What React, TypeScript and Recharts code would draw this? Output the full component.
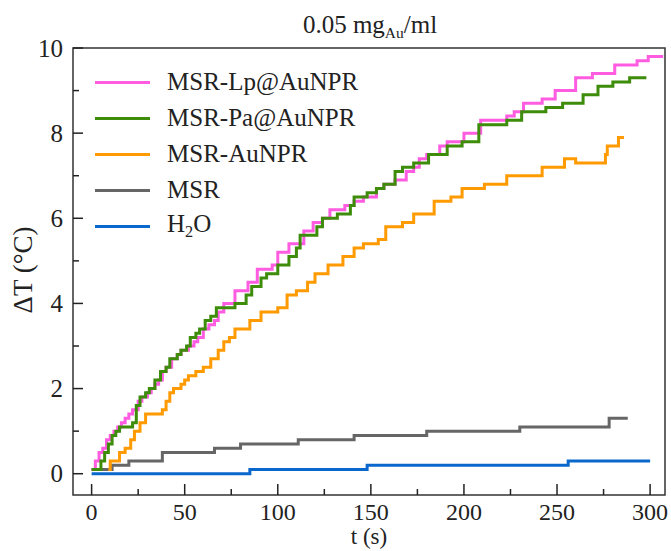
import React from 'react';
import { LineChart, Line, XAxis, YAxis, ReferenceArea } from 'recharts';

// heating curves, t in s, dT in degC
const lpTime = [0, 2, 4, 6, 8, 10, 12, 14, 16, 18, 20, 22, 25, 27, 30, 32, 34, 36, 38, 40, 43, 46, 48, 52, 55, 57, 60, 63, 66, 68, 71, 77, 84, 89, 97, 100, 106, 114, 119, 124, 128, 136, 141, 146, 153, 157, 163, 169, 173, 176, 180, 187, 191, 200, 209, 223, 227, 232, 242, 249, 260, 269, 281, 293, 299, 307];
const lpTemp = [0.1, 0.3, 0.5, 0.6, 0.8, 0.9, 1.0, 1.1, 1.2, 1.3, 1.4, 1.5, 1.7, 1.8, 1.9, 2.0, 2.1, 2.2, 2.4, 2.5, 2.7, 2.8, 2.9, 3.0, 3.1, 3.2, 3.4, 3.5, 3.6, 3.8, 4.0, 4.3, 4.5, 4.8, 4.9, 5.2, 5.4, 5.7, 5.9, 6.0, 6.2, 6.3, 6.4, 6.5, 6.7, 6.8, 6.9, 7.1, 7.2, 7.4, 7.5, 7.7, 7.8, 8.0, 8.3, 8.4, 8.5, 8.7, 8.8, 9.0, 9.3, 9.4, 9.6, 9.7, 9.8, 9.8];

const paTime = [0, 3, 5, 7, 9, 11, 13, 15, 22, 24, 26, 29, 31, 34, 37, 40, 42, 46, 48, 51, 53, 56, 58, 61, 64, 67, 77, 83, 86, 91, 94, 100, 106, 110, 112, 121, 124, 132, 139, 141, 148, 153, 157, 163, 167, 173, 181, 191, 199, 208, 223, 231, 244, 253, 264, 272, 280, 289, 298];
const paTemp = [0.1, 0.1, 0.3, 0.5, 0.7, 0.9, 1.0, 1.1, 1.2, 1.6, 1.8, 1.9, 2.0, 2.2, 2.4, 2.5, 2.7, 2.8, 2.9, 3.0, 3.2, 3.3, 3.4, 3.6, 3.7, 3.9, 4.0, 4.2, 4.4, 4.6, 4.7, 4.9, 5.1, 5.3, 5.6, 5.8, 6.0, 6.1, 6.3, 6.5, 6.6, 6.7, 6.8, 7.1, 7.2, 7.3, 7.5, 7.7, 7.8, 8.2, 8.3, 8.5, 8.6, 8.7, 8.9, 9.1, 9.2, 9.3, 9.3];

const auTime = [9, 10, 15, 18, 21, 23, 26, 29, 38, 40, 42, 44, 48, 50, 52, 56, 60, 64, 68, 71, 74, 77, 85, 91, 100, 105, 110, 116, 120, 127, 135, 141, 146, 154, 158, 167, 173, 184, 193, 199, 211, 223, 242, 254, 260, 276, 277, 283, 286];
const auTemp = [0.1, 0.3, 0.5, 0.6, 0.8, 1.0, 1.2, 1.4, 1.5, 1.7, 1.9, 2.0, 2.1, 2.2, 2.3, 2.4, 2.5, 2.7, 2.9, 3.1, 3.2, 3.4, 3.6, 3.8, 3.9, 4.2, 4.3, 4.5, 4.7, 4.9, 5.1, 5.3, 5.4, 5.5, 5.8, 5.9, 6.1, 6.4, 6.5, 6.7, 6.8, 7.0, 7.2, 7.4, 7.3, 7.5, 7.7, 7.9, 7.9];

const msrTime = [0, 11, 20, 38, 66, 80, 111, 141, 180, 230, 278, 288];
const msrTemp = [0.1, 0.2, 0.3, 0.5, 0.6, 0.7, 0.8, 0.9, 1.0, 1.1, 1.3, 1.3];

const waterTime = [0, 85, 148, 256, 300];
const waterTemp = [0, 0.1, 0.2, 0.3, 0.3];

const xMajorTicks = [0, 50, 100, 150, 200, 250, 300];
const xMinorTicks = [25, 75, 125, 175, 225, 275];
const yMajorTicks = [0, 2, 4, 6, 8, 10];
const yMinorTicks = [1, 3, 5, 7, 9];

const FONT = '"Liberation Serif", "Times New Roman", serif';
const INK = '#222';

const zip = (time: number[], temp: number[]) => time.map((t, i) => ({ t, v: temp[i] }));

const series = [
  { key: 'lp', name: 'MSR-Lp@AuNPR', color: '#ff5ce1', data: zip(lpTime, lpTemp) },
  { key: 'pa', name: 'MSR-Pa@AuNPR', color: '#3d8c0a', data: zip(paTime, paTemp) },
  { key: 'au', name: 'MSR-AuNPR', color: '#ff9a00', data: zip(auTime, auTemp) },
  { key: 'msr', name: 'MSR', color: '#666666', data: zip(msrTime, msrTemp) },
  { key: 'h2o', name: 'H2O', color: '#0a68cc', data: zip(waterTime, waterTemp) },
];

// series drawn bottom to top
const drawOrder = ['h2o', 'msr', 'au', 'lp', 'pa'];

const XTick = ({ x, y, payload }: any) => {
  const major = xMajorTicks.includes(payload.value);
  return (
    <g>
      <line x1={x} x2={x} y1={y} y2={y - (major ? 11 : 6)} stroke={INK} strokeWidth={1.5} />
      {major && (
        <text x={x} y={y + 25} textAnchor="middle" fontSize={24} fill={INK} fontFamily={FONT}>
          {payload.value}
        </text>
      )}
    </g>
  );
};

const YTick = ({ x, y, payload }: any) => {
  const major = yMajorTicks.includes(payload.value);
  return (
    <g>
      <line x1={x} x2={x + (major ? 10 : 6)} y1={y} y2={y} stroke={INK} strokeWidth={1.5} />
      {major && (
        <text x={x - 10} y={y} dy="0.35em" textAnchor="end" fontSize={25} fill={INK} fontFamily={FONT}>
          {payload.value}
        </text>
      )}
    </g>
  );
};

const LegendName = ({ name }: { name: string }) =>
  name === 'H2O' ? (
    <span>
      H<sub style={{ fontSize: '0.65em', verticalAlign: '-0.3em' }}>2</sub>O
    </span>
  ) : (
    <span>{name}</span>
  );

export default function App() {
  return (
    <div style={{ position: 'absolute', left: 0, top: 0, width: 671, height: 551, background: '#fff', fontFamily: FONT, color: INK }}>
      <LineChart width={671} height={551} margin={{ top: 48, right: 6, bottom: 16, left: 13 }}>
        <XAxis
          type="number"
          dataKey="t"
          domain={[-10, 308]}
          ticks={[...xMajorTicks, ...xMinorTicks]}
          interval={0}
          allowDataOverflow
          axisLine={false}
          tickLine={false}
          tickSize={0}
          tickMargin={0}
          height={40}
          tick={<XTick />}
        />
        <YAxis
          type="number"
          dataKey="v"
          domain={[-0.5, 10]}
          ticks={[...yMajorTicks, ...yMinorTicks]}
          interval={0}
          allowDataOverflow
          axisLine={false}
          tickLine={false}
          tickSize={0}
          tickMargin={0}
          width={60}
          tick={<YTick />}
        />
        {drawOrder.map((k) => {
          const s = series.find((d) => d.key === k)!;
          return (
            <Line
              key={s.key}
              data={s.data}
              dataKey="v"
              name={s.name}
              type="stepAfter"
              stroke={s.color}
              strokeWidth={3}
              dot={false}
              activeDot={false}
              isAnimationActive={false}
            />
          );
        })}
        <ReferenceArea x1={-10} x2={308} y1={-0.5} y2={10} fill="none" stroke="#333" strokeWidth={1.5} />
      </LineChart>

      {/* title */}
      <div style={{ position: 'absolute', left: 370, top: 12, transform: 'translateX(-50%)', fontSize: 25, lineHeight: 1, whiteSpace: 'nowrap' }}>
        0.05 mg<sub style={{ fontSize: '0.62em', verticalAlign: '-0.35em' }}>Au</sub>/ml
      </div>

      {/* axis titles */}
      <div style={{ position: 'absolute', left: 369, top: 528, transform: 'translateX(-50%)', fontSize: 23, lineHeight: 0.8, whiteSpace: 'nowrap' }}>
        t (s)
      </div>
      <div
        style={{
          position: 'absolute',
          left: 23,
          top: 270,
          transform: 'translate(-50%, -50%) rotate(-90deg)',
          fontSize: 27,
          lineHeight: 1,
          whiteSpace: 'nowrap',
        }}
      >
        ΔT (°C)
      </div>

      {/* legend */}
      {series.map((s, i) => (
        <div
          key={s.key}
          style={{ position: 'absolute', left: 95, top: 82 + 36 * i - 18, height: 36, display: 'flex', alignItems: 'center', fontSize: 25, whiteSpace: 'nowrap' }}
        >
          <div style={{ width: 55, height: 3, background: s.color, marginRight: 17 }} />
          <LegendName name={s.name} />
        </div>
      ))}
    </div>
  );
}
